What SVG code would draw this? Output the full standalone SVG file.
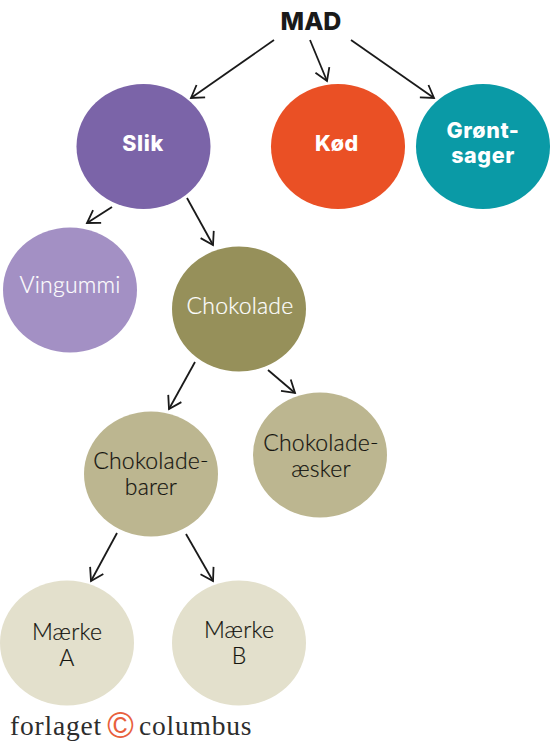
<svg xmlns="http://www.w3.org/2000/svg" width="550" height="746" viewBox="0 0 550 746">
<style>
.b{font-family:"Inter","Liberation Sans",sans-serif;font-weight:800;font-size:21.5px;letter-spacing:.6px;fill:#fff;text-anchor:middle}
.l{font-family:"Lato","Liberation Sans",sans-serif;font-weight:300;font-size:23px;text-anchor:middle;letter-spacing:.2px}
.d{fill:#14140f;stroke:#14140f;stroke-width:.2}.w{fill:#fff;stroke:#fff;stroke-width:.2}
.logo{font-family:"Liberation Serif",serif;font-size:27.500px;letter-spacing:.8px;fill:#2d2d2d}
#connectors line{stroke:#1a1a1a;stroke-width:1.8;marker-end:url(#a);fill:none}
</style>
<defs><marker id="a" markerUnits="userSpaceOnUse" markerWidth="24" markerHeight="24" refX="14" refY="10" orient="auto" viewBox="0 0 24 20"><path d="M2 2.500L14 10L2 17.500" fill="none" stroke="#1a1a1a" stroke-width="1.800"/></marker></defs>
<rect width="550" height="746" fill="#fff"/>
<g id="connectors">
<line x1="274" y1="40" x2="191" y2="98"/>
<line x1="310" y1="40" x2="327" y2="81"/>
<line x1="351" y1="40" x2="434" y2="98"/>
<line x1="112" y1="207" x2="87" y2="223"/>
<line x1="187" y1="198" x2="213" y2="245"/>
<line x1="195" y1="362" x2="169" y2="409"/>
<line x1="268" y1="370" x2="295" y2="393"/>
<line x1="117" y1="533" x2="91" y2="581"/>
<line x1="186" y1="534" x2="213" y2="581"/>
</g>
<g id="mad"><text x="311" y="30" text-anchor="middle" font-family="Inter,'Liberation Sans',sans-serif" font-weight="800" font-size="25" fill="#1a1a1a">MAD</text></g>
<g id="slik"><ellipse cx="143.500" cy="146.500" rx="67" ry="62.500" fill="#7b64a8"/><text class="b" x="143" y="151">Slik</text></g>
<g id="kod"><ellipse cx="338" cy="146.500" rx="67" ry="62.500" fill="#ea5025"/><text class="b" x="337" y="151">Kød</text></g>
<g id="gront"><ellipse cx="483" cy="146.500" rx="67" ry="62.500" fill="#0a9aa6"/><text class="b" x="483" y="138">Grønt-</text><text class="b" x="483" y="163">sager</text></g>
<g id="vingummi"><ellipse cx="70" cy="290" rx="67" ry="62.500" fill="#a390c4"/><text class="l w" x="70" y="293">Vingummi</text></g>
<g id="chokolade"><ellipse cx="239" cy="309" rx="67" ry="62.500" fill="#96905a"/><text class="l w" x="240" y="314">Chokolade</text></g>
<g id="barer"><ellipse cx="151" cy="474" rx="67" ry="62.500" fill="#bcb690"/><text class="l d" x="151" y="469">Chokolade-</text><text class="l d" x="151" y="495">barer</text></g>
<g id="aesker"><ellipse cx="320" cy="455" rx="67" ry="62.500" fill="#bcb690"/><text class="l d" x="321" y="451">Chokolade-</text><text class="l d" x="321" y="477">æsker</text></g>
<g id="maerke-a"><ellipse cx="67" cy="643" rx="67" ry="62.500" fill="#e3e0cc"/><text class="l d" x="67" y="640">Mærke</text><text class="l d" x="67" y="666">A</text></g>
<g id="maerke-b"><ellipse cx="239" cy="643" rx="67" ry="62.500" fill="#e3e0cc"/><text class="l d" x="239" y="638">Mærke</text><text class="l d" x="239" y="664">B</text></g>
<g id="logo"><text class="logo" x="10" y="735">forlaget</text><text x="120.500" y="738" text-anchor="middle" font-family="Liberation Sans,sans-serif" font-size="36" fill="#e8603c">©</text><text class="logo" x="139" y="735">columbus</text></g>
</svg>
